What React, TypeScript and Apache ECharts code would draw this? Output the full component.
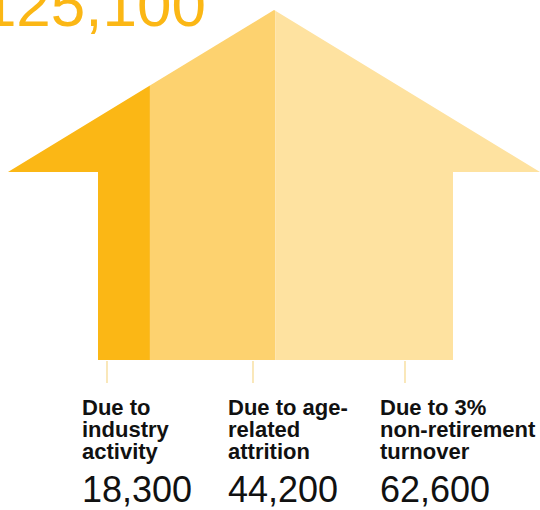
import React, { useEffect, useRef } from "react";
import * as echarts from "echarts";

// ---- data ----
const categories: string[] = [
  "Due to\nindustry\nactivity",
  "Due to age-\nrelated\nattrition",
  "Due to 3%\nnon-retirement\nturnover",
];
const values: number[] = [18300, 44200, 62600];
const total: number = values.reduce((s, v) => s + v, 0);

// ---- styles / layout ----
const COLORS = ["#FBB715", "#FDD26F", "#FEE2A0"];
const TITLE_COLOR = "#FBB715";
const TICK_COLOR = "#F6D88C";
const LABEL_X = [82, 228, 380];
const TICK_OFFSET = 25;
const EAVE_DROP = 162; // px from peak to eave
const OVERHANG_L = 90;
const OVERHANG_R = 87;
const FONT = "'Liberation Sans', Arial, Helvetica, sans-serif";

const fmt = (v: number) => v.toLocaleString("en-US");

export default function App() {
  const ref = useRef<HTMLDivElement>(null);

  useEffect(() => {
    document.body.style.margin = "0";
    if (!ref.current) return;
    const chart = echarts.init(ref.current, null, { renderer: "svg" });

    let acc = 0;
    const segData = values.map((v, i) => {
      const s = acc;
      acc += v;
      return [s, acc, i];
    });

    const renderItem = (params: any, api: any) => {
      const cs = params.coordSys;
      const idx = api.value(2);
      const L = cs.x;
      const R = cs.x + cs.width;
      const T = cs.y;
      const B = cs.y + cs.height;
      const E = T + EAVE_DROP;
      const lt = L - OVERHANG_L;
      const rt = R + OVERHANG_R;
      const P = (lt + rt) / 2;
      const roofY = (x: number) =>
        x <= P ? E - ((x - lt) * (E - T)) / (P - lt) : T + ((x - P) * (E - T)) / (rt - P);

      let a = api.coord([api.value(0), 0])[0];
      let b = api.coord([api.value(1), 0])[0];
      if (idx === 0) a = lt;
      if (idx === values.length - 1) b = rt;

      const pts: number[][] = [[a, roofY(a)]];
      if (a < P && b > P) pts.push([P, T]);
      pts.push([b, roofY(b)]);
      if (b > R) {
        pts.push([b, E]);
        pts.push([R, E]);
        pts.push([R, B]);
      } else {
        pts.push([b, B]);
      }
      if (a < L) {
        pts.push([L, B]);
        pts.push([L, E]);
        pts.push([a, E]);
      } else {
        pts.push([a, B]);
      }
      return {
        type: "polygon",
        shape: { points: pts },
        style: { fill: COLORS[idx % COLORS.length] },
      };
    };

    const graphics: any[] = [
      {
        type: "text",
        x: 206,
        y: 4.5,
        style: {
          text: fmt(total),
          fill: TITLE_COLOR,
          font: `62px ${FONT}`,
          align: "right",
          verticalAlign: "middle",
        },
      },
    ];
    categories.forEach((c, i) => {
      graphics.push({
        type: "line",
        shape: { x1: LABEL_X[i] + TICK_OFFSET, y1: 361, x2: LABEL_X[i] + TICK_OFFSET, y2: 383 },
        style: { stroke: TICK_COLOR, lineWidth: 1.2 },
      });
      graphics.push({
        type: "text",
        x: LABEL_X[i],
        y: 396.4,
        style: {
          text: c,
          fill: "#111111",
          font: `bold 22px ${FONT}`,
          lineHeight: 22,
          align: "left",
          verticalAlign: "top",
        },
      });
      graphics.push({
        type: "text",
        x: LABEL_X[i],
        y: 489.5,
        style: {
          text: fmt(values[i]),
          fill: "#111111",
          font: `36px ${FONT}`,
          align: "left",
          verticalAlign: "middle",
        },
      });
    });

    chart.setOption({
      animation: false,
      grid: { left: 98, right: 87, top: 10, bottom: 150 },
      xAxis: { type: "value", min: 0, max: total, show: false },
      yAxis: { type: "value", min: 0, max: 1, show: false },
      series: [
        {
          type: "custom",
          clip: false,
          renderItem,
          encode: { x: [0, 1] },
          data: segData,
        },
      ],
      graphic: graphics,
    });

    return () => chart.dispose();
  }, []);

  return <div ref={ref} style={{ width: 540, height: 510 }} />;
}
